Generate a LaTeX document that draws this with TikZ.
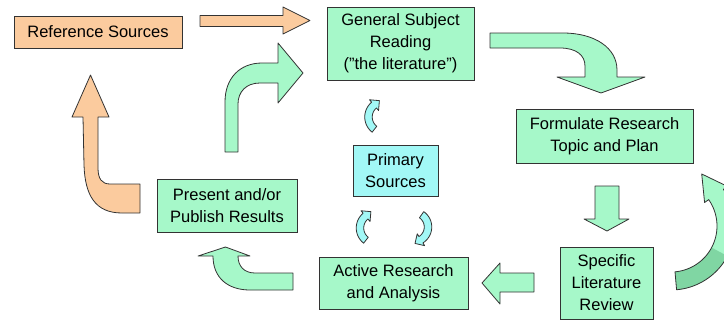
\documentclass[tikz,border=0pt]{standalone}
\usepackage{fontspec}
\setmainfont{Liberation Sans}
\usetikzlibrary{calc}
\definecolor{mint}{HTML}{A6F8C9}
\definecolor{peach}{HTML}{FBCB9E}
\definecolor{aqua}{HTML}{A2F8F6}
\definecolor{darkmint}{HTML}{80D6A3}
\definecolor{edge}{HTML}{333333}
\newcommand{\bandarrow}[9]{%
 \pgfmathsetmacro\bro{#3+#4/2}%
 \pgfmathsetmacro\bri{#3-#4/2}%
 \pgfmathsetmacro\bho{#3+#7}%
 \pgfmathsetmacro\bhi{#3-#7}%
 \pgfmathsetmacro\bta{#6+sign(#6-#5)*atan(#8/#3)}%
 \pgfmathsetmacro\btr{sqrt(#3*#3+#8*#8)}%
 \path[#9] plot[domain=#5:#6, samples=40] ({#1+\bro*cos(\x)},{#2+\bro*sin(\x)})
   -- ({#1+\bho*cos(#6)},{#2+\bho*sin(#6)})
   -- ({#1+\btr*cos(\bta)},{#2+\btr*sin(\bta)})
   -- ({#1+\bhi*cos(#6)},{#2+\bhi*sin(#6)})
   -- plot[domain=#6:#5, samples=40] ({#1+\bri*cos(\x)},{#2+\bri*sin(\x)})
   -- cycle;}
\begin{document}
\begin{tikzpicture}[x=1pt,y=-1pt,
 box/.style={draw=edge, line width=0.9pt, align=center, inner sep=0pt,
   font=\fontsize{16.5}{22}\selectfont},
 blk/.style={draw=edge, line width=0.8pt, line join=round}]
\useasboundingbox (0,0) rectangle (724,322);
\clip (0,0) rectangle (724,322);

% boxes
\node[box, fill=peach, minimum width=168pt, minimum height=32pt] (ref) at (98,32) {Reference Sources};
\node[box, fill=mint, minimum width=147pt, minimum height=73pt] (gen) at (400.5,43.5) {General Subject\\Reading\\("the literature")};
\node[box, fill=mint, minimum width=177pt, minimum height=54pt] (form) at (604.5,136) {\raisebox{-2pt}{\begin{tabular}{@{}c@{}}Formulate Research\\Topic and Plan\end{tabular}}};
\node[box, fill=aqua, minimum width=85pt, minimum height=51pt] (prim) at (395.5,170.5) {Primary\\Sources};
\node[box, fill=mint, minimum width=140pt, minimum height=53pt] (pres) at (227,205.5) {Present and/or\\Publish Results};
\node[box, fill=mint, minimum width=149pt, minimum height=52pt] (act) at (393.5,283) {Active Research\\and Analysis};
\node[box, fill=mint, minimum width=93pt, minimum height=72pt] (spec) at (606.5,283) {Specific\\Literature\\Review};

% Reference -> General
\filldraw[blk, fill=peach] (200,15.5) -- (283,15.5) -- (283,7) -- (310,20.5) -- (283,34) -- (283,26.5) -- (200,26.5) -- cycle;
% Present -> General (bent)
\filldraw[blk, fill=mint] (225,152) -- (225,102) .. controls (225,78) and (240,63) .. (262,63) -- (278,63) -- (278,43) -- (303,73) -- (278,103) -- (278,83) -- (260,83) .. controls (246,83) and (238,92) .. (238,104) -- (238,152) -- cycle;
% General -> Formulate (curved)
\filldraw[blk, fill=mint] (490,33) -- (563,33) .. controls (595,33) and (617,48) .. (617,70) -- (617,77) -- (645,77) -- (601,93) -- (557,77) -- (585,77) -- (585,66) .. controls (585,55) and (576,48) .. (560,48) -- (490,48) -- cycle;
% Present -> Reference
\filldraw[blk, fill=peach] (140,213) -- (122,213) .. controls (95,213) and (85,195) .. (84,165) -- (83,117) -- (72,117) -- (90.5,75) -- (109,117) -- (98,117) -- (98,168) .. controls (98,179) and (102,184) .. (110,184) -- (140,184) -- cycle;
% Active -> Present
\filldraw[blk, fill=mint] (293,273) -- (255,273) .. controls (244,273) and (238,266) .. (238,256) -- (250,256) -- (225.5,247) -- (198,256) -- (213,256) .. controls (213,278) and (228,290) .. (250,290) -- (293,290) -- cycle;
% Formulate -> Specific
\filldraw[blk, fill=mint] (595,186) -- (619,186) -- (619,219) -- (629,219) -- (607,231) -- (584,219) -- (595,219) -- cycle;
% Specific -> Active
\filldraw[blk, fill=mint] (534,273) -- (534,292) -- (500,292) -- (500,304) -- (482,283) -- (500,263) -- (500,273) -- cycle;
% Specific -> Formulate (big curved, right edge)
\bandarrow{671}{226}{55}{18}{85}{-35}{14}{25}{fill=mint}
\fill[darkmint] plot[domain=85:28, samples=30] ({671+64*cos(\x)},{226+64*sin(\x)}) -- plot[domain=28:85, samples=30] ({671+46*cos(\x)},{226+46*sin(\x)}) -- cycle;
\bandarrow{671}{226}{55}{18}{85}{-35}{14}{25}{blk}
% small cyan arrows
\bandarrow{384}{117}{15.5}{7.5}{128}{230}{7}{7}{blk, fill=aqua}
\bandarrow{375.5}{228}{15.5}{7.5}{128}{230}{7}{7}{blk, fill=aqua}
\bandarrow{413}{227}{15}{7.5}{-55}{58}{7}{7}{blk, fill=aqua}
\end{tikzpicture}
\end{document}
